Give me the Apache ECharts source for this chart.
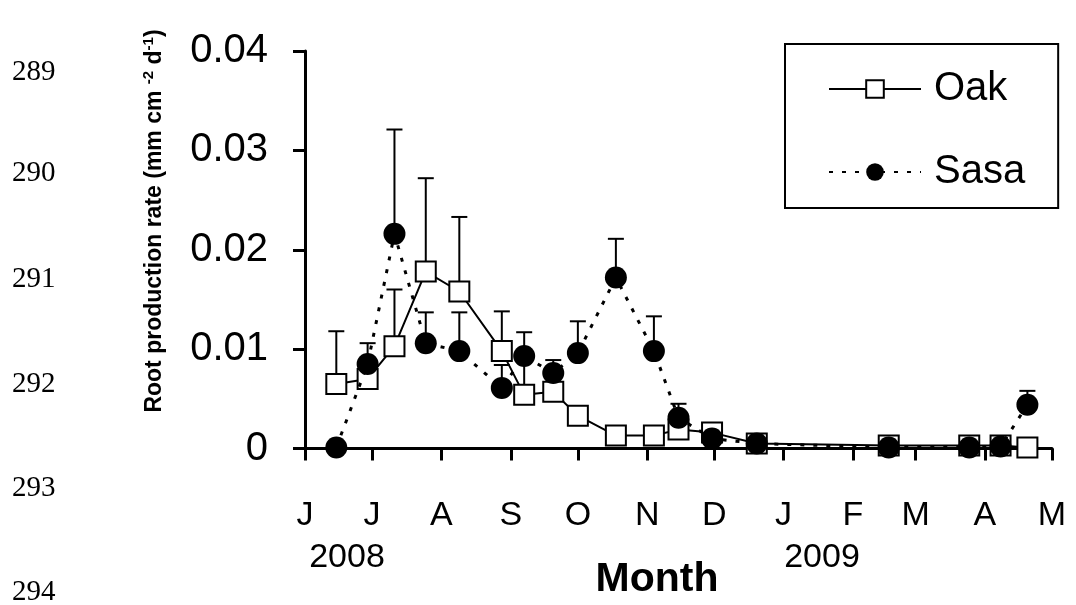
<!DOCTYPE html>
<html>
<head>
<meta charset="utf-8">
<script src="https://cdn.jsdelivr.net/npm/echarts@6/dist/echarts.min.js"></script>
<style>
  html, body { margin: 0; padding: 0; background: #fff; }
  #main { width: 1076px; height: 605px; }
</style>
</head>
<body>
<div id="main"></div>
<script>
// sampling days, counted from 1 June 2008
var days = [14, 28, 40, 54, 69, 88, 98, 111, 122, 139, 156, 167, 182, 202, 261, 297, 311, 323];

// Oak: mean and top of error bar
var oakVals = [0.0065, 0.0070, 0.0103, 0.0178, 0.0158, 0.0098, 0.0054, 0.0057, 0.0033, 0.0013, 0.0013, 0.0019, 0.0016, 0.0005, 0.0003, 0.0003, 0.0003, 0.0001];
var oakTops = [0.0118, 0.0090, 0.0160, 0.0272, 0.0233, 0.0138, 0.0090, 0.0072, 0.0038, 0.0013, 0.0013, 0.0019, 0.0016, 0.0005, 0.0003, 0.0003, 0.0003, 0.0001];

// Sasa: mean and top of error bar
var sasaVals = [0.0001, 0.0085, 0.0216, 0.0106, 0.0098, 0.0061, 0.0093, 0.0076, 0.0096, 0.0172, 0.0098, 0.0031, 0.0010, 0.0005, 0.0001, 0.0001, 0.0002, 0.0044];
var sasaTops = [0.0001, 0.0106, 0.0321, 0.0137, 0.0137, 0.0084, 0.0117, 0.0089, 0.0128, 0.0211, 0.0133, 0.0045, 0.0010, 0.0005, 0.0001, 0.0001, 0.0002, 0.0058];

// month boundaries (days from 1 June 2008) and their labels
var monthStarts = [0, 30, 61, 92, 122, 153, 183, 214, 245, 273, 304, 334];
var monthLetters = ['J', 'J', 'A', 'S', 'O', 'N', 'D', 'J', 'F', 'M', 'A', 'M'];
var yearLabels = ['2008', '2009'];
var lineNumbers = ['289', '290', '291', '292', '293', '294'];

var font = 'Liberation Sans, Arial, sans-serif';

function pairs(xs, ys) {
    return xs.map(function (d, i) { return [d, ys[i]]; });
}
function triples(xs, ys, tops) {
    return xs.map(function (d, i) { return [d, ys[i], tops[i]]; });
}

// 误差线：只画向上的一半
function renderErr(params, api) {
    var x = api.value(0), v = api.value(1), t = api.value(2);
    if (t <= v) return;
    var p0 = api.coord([x, v]);
    var p1 = api.coord([x, t]);
    return {
        type: 'group',
        children: [
            {type: 'line', shape: {x1: p0[0], y1: p0[1], x2: p1[0], y2: p1[1]}, style: {stroke: '#000', lineWidth: 2}},
            {type: 'line', shape: {x1: p1[0] - 8, y1: p1[1], x2: p1[0] + 8, y2: p1[1]}, style: {stroke: '#000', lineWidth: 2}}
        ]
    };
}

var lineNumY = [72, 173, 279, 384, 488, 592];
var graphics = lineNumbers.map(function (t, i) {
    return {
        type: 'text', x: 12, y: lineNumY[i],
        style: {text: t, fill: '#000', font: '29px "Liberation Serif", "Times New Roman", serif', textVerticalAlign: 'middle'}
    };
});
graphics.push({
    type: 'text', x: 347, y: 558,
    style: {text: yearLabels[0], fill: '#000', font: '34px ' + font, textAlign: 'center', textVerticalAlign: 'middle'}
});
graphics.push({
    type: 'text', x: 822, y: 558,
    style: {text: yearLabels[1], fill: '#000', font: '34px ' + font, textAlign: 'center', textVerticalAlign: 'middle'}
});
graphics.push({
    type: 'text', x: 657, y: 580,
    style: {text: 'Month', fill: '#000', font: 'bold 41px ' + font, textAlign: 'center', textVerticalAlign: 'middle'}
});
graphics.push({
    type: 'text', x: 155, y: 221, rotation: Math.PI / 2,
    style: {
        text: '{n|Root production rate (mm cm }{s|-2}{n| d}{s|-1}{n|)}',
        textAlign: 'center', textVerticalAlign: 'middle',
        rich: {
            n: {fontSize: 23, fontWeight: 'bold', fontFamily: font, fill: '#000', lineHeight: 27},
            s: {fontSize: 15, fontWeight: 'bold', fontFamily: font, fill: '#000', lineHeight: 27, verticalAlign: 'top'}
        }
    }
});

var chart = echarts.init(document.getElementById('main'));

var option = {
    backgroundColor: '#fff',
    animation: false,
    grid: {left: 305, top: 51, width: 747, height: 397.5, containLabel: false, outerBoundsMode: 'none'},
    legend: {
        data: ['Oak', 'Sasa'],
        orient: 'vertical',
        left: 785, top: 44,
        itemWidth: 92, itemHeight: 22, itemGap: 43,
        padding: [25, 33, 16, 43],
        borderColor: '#000', borderWidth: 2,
        textStyle: {fontSize: 40, fontFamily: font, color: '#000', padding: [0, 0, 0, 8]}
    },
    xAxis: {
        type: 'value', min: 0, max: 334,
        splitLine: {show: false},
        axisLine: {lineStyle: {color: '#000', width: 3}},
        axisTick: {show: true, inside: false, length: 12, lineStyle: {color: '#000', width: 3}, customValues: monthStarts},
        axisLabel: {
            customValues: monthStarts, margin: 50,
            fontSize: 34, fontFamily: font, color: '#000',
            formatter: function (v) {
                var i = monthStarts.indexOf(v);
                return i >= 0 ? monthLetters[i] : '';
            }
        }
    },
    yAxis: {
        type: 'value', min: 0, max: 0.04, interval: 0.01,
        splitLine: {show: false},
        axisLine: {show: true, lineStyle: {color: '#000', width: 3}},
        axisTick: {show: true, inside: false, length: 12, lineStyle: {color: '#000', width: 3}},
        axisLabel: {
            margin: 37, fontSize: 40, fontFamily: font, color: '#000',
            formatter: function (v) { return v === 0 ? '0' : v.toFixed(2); }
        }
    },
    graphic: graphics,
    series: [
        {
            name: 'oakErr', type: 'custom', renderItem: renderErr,
            encode: {x: 0, y: [1, 2]}, data: triples(days, oakVals, oakTops), z: 1
        },
        {
            name: 'sasaErr', type: 'custom', renderItem: renderErr,
            encode: {x: 0, y: [1, 2]}, data: triples(days, sasaVals, sasaTops), z: 1
        },
        {
            name: 'Oak', type: 'line', data: pairs(days, oakVals), z: 3,
            symbol: 'rect', symbolSize: 20,
            lineStyle: {color: '#000', width: 2, type: 'solid'},
            itemStyle: {color: '#fff', borderColor: '#000', borderWidth: 2}
        },
        {
            name: 'Sasa', type: 'line', data: pairs(days, sasaVals), z: 4,
            symbol: 'circle', symbolSize: 22,
            lineStyle: {color: '#000', width: 3, type: [4, 9]},
            itemStyle: {color: '#000', borderColor: '#000', borderWidth: 0}
        }
    ]
};

chart.setOption(option);
</script>
</body>
</html>
